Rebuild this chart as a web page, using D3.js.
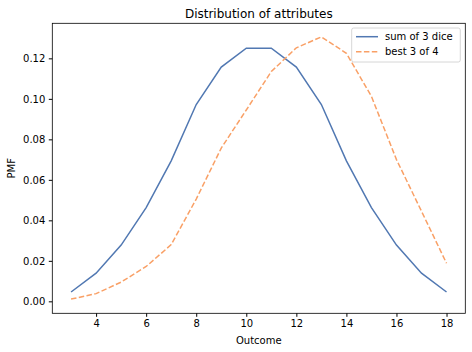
<!DOCTYPE html>
<html lang="en">
<head>
  <meta charset="UTF-8">
  <title>Distribution of attributes</title>
  <script src="https://d3js.org/d3.v7.min.js"></script>
  <style>
    body { margin: 0; background: #fff; }
    text { font-family: "DejaVu Sans", sans-serif; fill: #000; }
  </style>
</head>
<body>
  <div id="chart"></div>

  <script>
    // data
    const outcomes = [3, 4, 5, 6, 7, 8, 9, 10, 11, 12, 13, 14, 15, 16, 17, 18];
    const sum3 = [0.0046, 0.0139, 0.0278, 0.0463, 0.0694, 0.0972, 0.1157, 0.125,
                  0.125, 0.1157, 0.0972, 0.0694, 0.0463, 0.0278, 0.0139, 0.0046];
    const best3of4 = [0.0011, 0.0038, 0.0095, 0.0172, 0.028, 0.0505, 0.0757, 0.0945,
                      0.1135, 0.1252, 0.1306, 0.1225, 0.1012, 0.070, 0.0445, 0.0188];
    const xTicks = [4, 6, 8, 10, 12, 14, 16, 18];
    const yTicks = [0, 0.02, 0.04, 0.06, 0.08, 0.10, 0.12];

    const width = 472, height = 352;
    const plotL = 52.3, plotR = 465.3, plotT = 23.3, plotB = 313.3;

    const svg = d3.select("#chart").append("svg")
      .attr("width", width)
      .attr("height", height);

    const x = d3.scaleLinear().domain([2.25, 18.75]).range([plotL, plotR]);
    const ymin = 0.0006, ymax = 0.1308, span = ymax - ymin;
    const y = d3.scaleLinear()
      .domain([ymin - 0.05 * span, ymax + 0.05 * span])
      .range([plotB, plotT]);

    // axes
    svg.append("g")
      .attr("transform", `translate(0,${plotB})`)
      .call(d3.axisBottom(x).tickValues(xTicks).tickSize(3.5).tickPadding(3.5).tickFormat(d3.format("d")))
      .call(g => g.select(".domain").remove())
      .call(g => g.selectAll("text").attr("font-size", 10));

    svg.append("g")
      .attr("transform", `translate(${plotL},0)`)
      .call(d3.axisLeft(y).tickValues(yTicks).tickSize(3.5).tickPadding(3.5).tickFormat(d3.format(".2f")))
      .call(g => g.select(".domain").remove())
      .call(g => g.selectAll("text").attr("font-size", 10));

    const line = d3.line()
      .x((d, i) => x(outcomes[i]))
      .y(d => y(d));

    svg.append("path")
      .attr("fill", "none")
      .attr("stroke", "#5178b2")
      .attr("stroke-width", 1.5)
      .attr("d", line(sum3));

    svg.append("path")
      .attr("fill", "none")
      .attr("stroke", "#f9a066")
      .attr("stroke-width", 1.5)
      .attr("stroke-dasharray", "5.5,2.4")
      .attr("d", line(best3of4));

    // frame
    svg.append("rect")
      .attr("x", plotL).attr("y", plotT)
      .attr("width", plotR - plotL).attr("height", plotB - plotT)
      .attr("fill", "none")
      .attr("stroke", "#000")
      .attr("stroke-width", 0.8);

    // title and labels
    svg.append("text")
      .attr("x", (plotL + plotR) / 2).attr("y", 18)
      .attr("text-anchor", "middle")
      .attr("font-size", 12)
      .text("Distribution of attributes");

    svg.append("text")
      .attr("x", (plotL + plotR) / 2).attr("y", 344)
      .attr("text-anchor", "middle")
      .attr("font-size", 10)
      .text("Outcome");

    svg.append("text")
      .attr("transform", `translate(15,${(plotT + plotB) / 2}) rotate(-90)`)
      .attr("text-anchor", "middle")
      .attr("font-size", 10)
      .text("PMF");

    // legend
    const legend = svg.append("g");
    legend.append("rect")
      .attr("x", 351.7).attr("y", 28)
      .attr("width", 108.6).attr("height", 34)
      .attr("rx", 2)
      .attr("fill", "#fff").attr("fill-opacity", 0.8)
      .attr("stroke", "#ccc").attr("stroke-width", 0.8);

    const entries = [
      { name: "sum of 3 dice", color: "#5178b2", dash: null },
      { name: "best 3 of 4", color: "#f9a066", dash: "5.5,2.4" }
    ];
    entries.forEach((e, i) => {
      const ly = 36.7 + i * 15;
      legend.append("line")
        .attr("x1", 356).attr("x2", 378)
        .attr("y1", ly).attr("y2", ly)
        .attr("stroke", e.color).attr("stroke-width", 1.5)
        .attr("stroke-dasharray", e.dash);
      legend.append("text")
        .attr("x", 385).attr("y", ly + 3.6)
        .attr("font-size", 10)
        .text(e.name);
    });
  </script>
</body>
</html>
